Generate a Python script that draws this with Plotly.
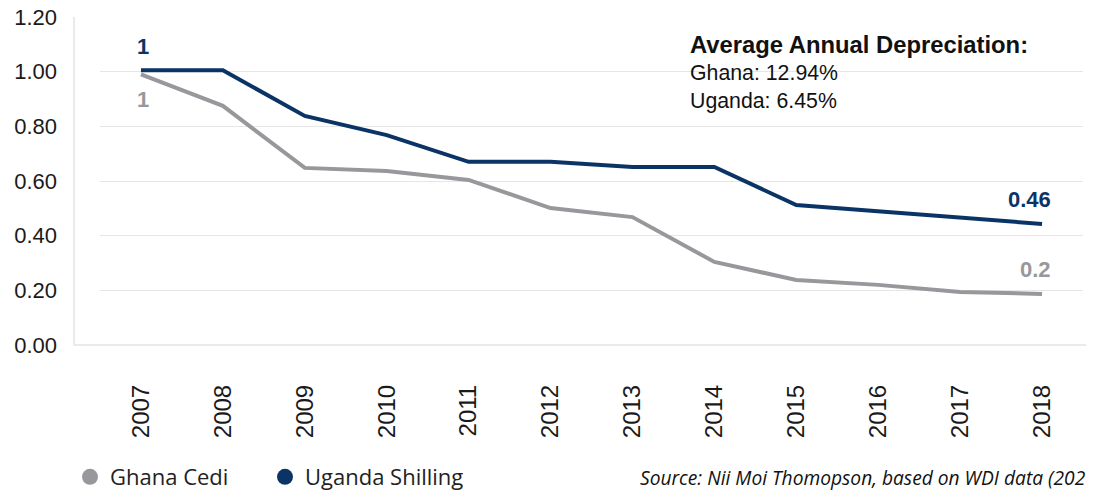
import plotly.graph_objects as go

years = ["2007", "2008", "2009", "2010", "2011", "2012", "2013", "2014", "2015", "2016", "2017", "2018"]
ghana = [0.99, 0.875, 0.648, 0.637, 0.604, 0.501, 0.468, 0.304, 0.238, 0.22, 0.194, 0.187]
uganda = [1.005, 1.005, 0.838, 0.768, 0.67, 0.67, 0.651, 0.651, 0.512, 0.49, 0.465, 0.443]
ghana_labels = {"2007": "1", "2018": "0.2"}
uganda_labels = {"2007": "1", "2018": "0.46"}
series_names = ["Ghana Cedi", "Uganda Shilling"]
note_title = "Average Annual Depreciation:"
note_lines = ["Ghana: 12.94%", "Uganda: 6.45%"]
source = "Source: Nii Moi Thomopson, based on WDI data (2020)"

GREY = "#98989c"
NAVY = "#0b3466"
FONT = "Liberation Sans, Arial, sans-serif"
NARROW = "Open Sans, sans-serif"

# the page body adds an 8px offset; positions below are in screenshot pixels
OFF = 8
W, H = 1094, 493
PL, PR, PT, PB = 100, 1083, 17, 345          # plot box in screenshot pixels
L, R, T, B = PL - OFF, W - (PR - OFF), PT - OFF, H - (PB - OFF)
pw, ph = W - L - R, H - T - B

def px(x):
    return (x - OFF - L) / pw

def py(y):
    return (H - B - (y - OFF)) / ph

fig = go.Figure()
fig.add_trace(go.Scatter(x=years, y=ghana, mode="lines", line=dict(color=GREY, width=4),
                         showlegend=False, hoverinfo="skip"))
fig.add_trace(go.Scatter(x=years, y=uganda, mode="lines", line=dict(color=NAVY, width=4),
                         showlegend=False, hoverinfo="skip"))
for name, col, lg in zip(series_names, [GREY, NAVY], ["legend", "legend2"]):
    fig.add_trace(go.Scatter(x=[years[0]], y=[None], mode="markers", name=name, legend=lg,
                             marker=dict(color=col, size=17, symbol="circle"), hoverinfo="skip"))

ann = []
for yr, txt in uganda_labels.items():
    i = years.index(yr)
    ann.append(dict(x=i, y=uganda[i], xref="x", yref="y", text=f"<b>{txt}</b>", showarrow=False,
                    xanchor="center" if i == 0 else "right", xshift=2 if i == 0 else 11, yshift=24,
                    font=dict(family=FONT, size=22, color=NAVY)))
for yr, txt in ghana_labels.items():
    i = years.index(yr)
    ann.append(dict(x=i, y=ghana[i], xref="x", yref="y", text=f"<b>{txt}</b>", showarrow=False,
                    xanchor="center" if i == 0 else "right", xshift=2 if i == 0 else 11,
                    yshift=-25 if i == 0 else 24,
                    font=dict(family=FONT, size=22, color=GREY)))
ann.append(dict(x=688, y=45, text=f"<b>{note_title}</b>", size=23.8))
for k, line in enumerate(note_lines):
    ann.append(dict(x=688, y=73 + 28 * k, text=line, size=21.3))
ann.append(dict(x=638, y=477, text=f"<i>{source}</i>", size=19.2, family=NARROW))

fixed = []
for a in ann:
    if a.get("xref") == "x":
        fixed.append(a)
        continue
    a = dict(a)
    size = a.pop("size")
    fam = a.pop("family", FONT)
    a.update(xref="paper", yref="paper", x=px(a["x"]), y=py(a["y"]), xanchor="left",
             yanchor="middle", showarrow=False, font=dict(family=fam, size=size, color="#111"))
    fixed.append(a)

legend_style = dict(orientation="h", xanchor="left", yanchor="middle", y=py(477),
                    font=dict(family=NARROW, size=22, color="#222"), bgcolor="rgba(0,0,0,0)")

fig.update_layout(
    width=W, height=H,
    margin=dict(l=L, r=R, t=T, b=B, autoexpand=False),
    paper_bgcolor="white", plot_bgcolor="white",
    font=dict(family=FONT, size=21, color="#1a1a1a"),
    annotations=fixed,
    showlegend=True,
    legend=dict(x=px(70), **legend_style),
    legend2=dict(x=px(265), **legend_style),
    shapes=[
        dict(type="line", xref="paper", yref="paper", x0=px(74), x1=px(1100), y0=py(345), y1=py(345),
             line=dict(color="#e3e3e3", width=1.5)),
        dict(type="line", xref="paper", yref="paper", x0=px(74), x1=px(74), y0=py(345), y1=py(17),
             line=dict(color="#e3e3e3", width=1.5)),
    ],
)
fig.update_xaxes(type="category", categoryorder="array", categoryarray=years, range=[-0.5, 11.5],
                 showgrid=False, zeroline=False, showline=False, automargin=False,
                 tickangle=-90, ticks="", ticklabelstandoff=34, ticklabeloverflow="allow",
                 tickfont=dict(family=FONT, size=24, color="#1a1a1a"))
fig.update_yaxes(range=[0, 1.2], dtick=0.2, tickformat=".2f", showgrid=True, gridcolor="#e6e6e6",
                 gridwidth=1, zeroline=False, showline=False, ticks="", ticklabelstandoff=42,
                 automargin=False, ticklabeloverflow="allow",
                 tickfont=dict(family=FONT, size=22, color="#1a1a1a"))

fig.write_html("out.html")
